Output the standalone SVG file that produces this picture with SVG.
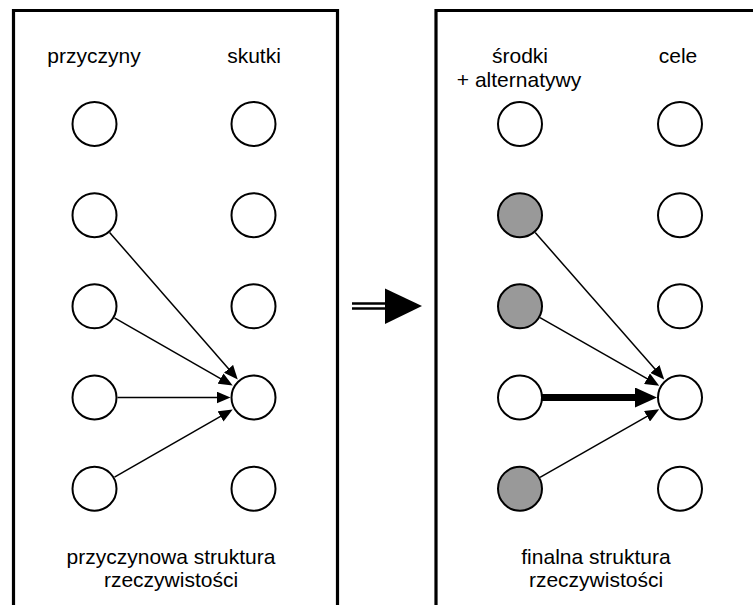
<svg xmlns="http://www.w3.org/2000/svg" width="753" height="605" viewBox="0 0 753 605">
  <style>
    .frame { fill: none; stroke: #000; stroke-width: 3.2; }
    .node { fill: #fff; stroke: #000; stroke-width: 2; }
    .node.sel { fill: #999; }
    .lbl { font-family: "Liberation Sans", Arial, sans-serif; font-size: 21px; fill: #000; text-anchor: middle; }
    .edge { stroke: #000; stroke-width: 1.5; fill: none; marker-end: url(#head); }
    .edge.strong { stroke-width: 7; marker-end: url(#headBig); }
  </style>
  <defs>
    <marker id="head" viewBox="0 0 14 12" refX="1" refY="6" markerWidth="14" markerHeight="12" markerUnits="userSpaceOnUse" orient="auto">
      <path d="M0,0 L14,6 L0,12 z" fill="#000"/>
    </marker>
    <marker id="headBig" viewBox="0 0 22 20" refX="1" refY="10" markerWidth="22" markerHeight="20" markerUnits="userSpaceOnUse" orient="auto">
      <path d="M0,0 L22,10 L0,20 z" fill="#000"/>
    </marker>
  </defs>

  <!-- panel frames (open at the bottom / right) -->
  <g id="frames">
    <path class="frame" d="M13.5,620 L13.5,10.5 L337.5,10.5 L337.5,620"/>
    <path class="frame" d="M436,620 L436,10.5 L770,10.5"/>
  </g>

  <!-- column and panel captions -->
  <g id="labels">
    <text class="lbl" x="94" y="63">przyczyny</text>
    <text class="lbl" x="254" y="63">skutki</text>
    <text class="lbl" x="171" y="564">przyczynowa struktura</text>
    <text class="lbl" x="171" y="587">rzeczywistości</text>
    <text class="lbl" x="520" y="63">środki</text>
    <text class="lbl" x="519" y="87">+ alternatywy</text>
    <text class="lbl" x="678" y="63">cele</text>
    <text class="lbl" x="596" y="564">finalna struktura</text>
    <text class="lbl" x="596" y="587">rzeczywistości</text>
  </g>

  <!-- left panel nodes -->
  <g id="L1"><circle class="node" cx="94.5" cy="124" r="22"/></g>
  <g id="L2"><circle class="node" cx="94.5" cy="215.2" r="22"/></g>
  <g id="L3"><circle class="node" cx="94.5" cy="306.3" r="22"/></g>
  <g id="L4"><circle class="node" cx="94.5" cy="397.5" r="22"/></g>
  <g id="L5"><circle class="node" cx="94.5" cy="488.7" r="22"/></g>
  <g id="R1"><circle class="node" cx="253.5" cy="124" r="22"/></g>
  <g id="R2"><circle class="node" cx="253.5" cy="215.2" r="22"/></g>
  <g id="R3"><circle class="node" cx="253.5" cy="306.3" r="22"/></g>
  <g id="R4"><circle class="node" cx="253.5" cy="397.5" r="22"/></g>
  <g id="R5"><circle class="node" cx="253.5" cy="488.7" r="22"/></g>

  <!-- right panel nodes -->
  <g id="M1"><circle class="node" cx="520" cy="124" r="22"/></g>
  <g id="M2"><circle class="node sel" cx="520" cy="215.2" r="22"/></g>
  <g id="M3"><circle class="node sel" cx="520" cy="306.3" r="22"/></g>
  <g id="M4"><circle class="node" cx="520" cy="397.5" r="22"/></g>
  <g id="M5"><circle class="node sel" cx="520" cy="488.7" r="22"/></g>
  <g id="G1"><circle class="node" cx="680" cy="124" r="22"/></g>
  <g id="G2"><circle class="node" cx="680" cy="215.2" r="22"/></g>
  <g id="G3"><circle class="node" cx="680" cy="306.3" r="22"/></g>
  <g id="G4"><circle class="node" cx="680" cy="397.5" r="22"/></g>
  <g id="G5"><circle class="node" cx="680" cy="488.7" r="22"/></g>

  <!-- connectors -->
  <g id="connectors">
    <line class="edge" x1="109.6" y1="232.5" x2="229.2" y2="369.6"/>
    <line class="edge" x1="114.5" y1="317.8" x2="221.4" y2="379.1"/>
    <line class="edge" x1="117.5" y1="397.5" x2="217.5" y2="397.5"/>
    <line class="edge" x1="114.5" y1="477.2" x2="221.4" y2="415.9"/>

    <line class="edge" x1="535.2" y1="232.5" x2="655.6" y2="369.7"/>
    <line class="edge" x1="540" y1="317.7" x2="647.9" y2="379.2"/>
    <line class="edge strong" x1="542" y1="397.5" x2="636" y2="397.5"/>
    <line class="edge" x1="540" y1="477.3" x2="647.9" y2="415.8"/>
  </g>

  <!-- transition arrow between panels -->
  <g id="transition">
    <line x1="352" y1="303.5" x2="387" y2="303.5" stroke="#000" stroke-width="2.5"/>
    <line x1="352" y1="308.5" x2="387" y2="308.5" stroke="#000" stroke-width="2.5"/>
    <path d="M385,288.5 L422,306 L385,324 z" fill="#000"/>
  </g>
</svg>
